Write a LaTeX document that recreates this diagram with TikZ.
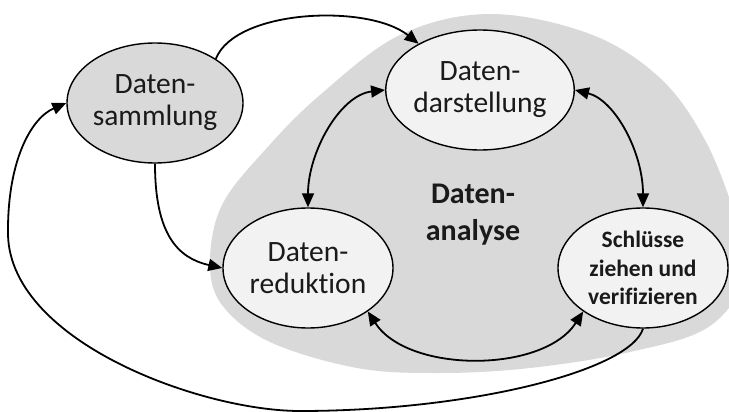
\documentclass[tikz,border=0pt]{standalone}
\usepackage{fontspec}
\setmainfont{Carlito}[Ligatures=NoCommon]
\usetikzlibrary{arrows.meta,shapes.geometric}
\definecolor{blobgray}{HTML}{D9D9D9}
\definecolor{paleell}{HTML}{F2F2F2}
\definecolor{inkgray}{HTML}{1A1A1A}
\begin{document}
\begin{tikzpicture}[x=1pt,y=-1pt,
  proc/.style={ellipse, draw=black, line width=1.4pt, minimum width=170pt,
    minimum height=120pt, inner sep=0pt, align=center, text=inkgray,
    font=\fontsize{29.5}{32}\selectfont},
  tip/.tip={Triangle[length=14pt,width=12pt]},
  flow/.style={line width=1.8pt, -tip},
  both/.style={line width=1.8pt, tip-tip}]
\useasboundingbox (0,0) rectangle (729,412);
\clip (0,0) rectangle (729,412);

% shaded region behind the analysis steps
\fill[blobgray] plot[smooth cycle, tension=0.6] coordinates {
  (490,14) (590,34) (660,78) (705,140) (735,215) (748,270) (710,326)
  (630,352) (530,368) (440,373) (357,368) (270,342) (222,305) (210,262)
  (222,205) (265,150) (320,95) (400,35)};

% steps
\node[proc, fill=blobgray] (ds) at (155,103) {Daten-\\sammlung};
\node[proc, fill=paleell] (dd) at (480,90) {Daten-\\darstellung};
\node[proc, fill=paleell] (dr) at (308,268) {Daten-\\reduktion};
\node[proc, fill=paleell, font=\bfseries\fontsize{23.5}{28.5}\selectfont] (sv)
  at (643,268) {Schlüsse\\ziehen und\\verifizieren};
\node[align=center, text=inkgray, font=\bfseries\fontsize{30}{37}\selectfont]
  (da) at (473,215) {Daten-\\analyse};

% connections
\draw[flow] (ds.36) .. controls +(20,-50) and +(-50,-40) .. (dd.143);
\draw[flow] (ds.south) .. controls +(0,70) and +(-45,-10) .. (dr.west);
\draw[both] (dr.north) .. controls +(0,-55) and +(-45,5) .. (dd.west);
\draw[both] (dd.east) .. controls +(40,10) and +(0,-55) .. (sv.north);
\draw[both] (dr.-36) .. controls +(40,62) and +(-40,62) .. (sv.-144);
\draw[flow] (sv.south) .. controls +(-13,42) and +(170,0) .. (300,411)
  .. controls +(-100,0) and +(-3,110) .. (8,230)
  .. controls +(0,-70) and +(-35,15) .. (ds.west);
\end{tikzpicture}
\end{document}
